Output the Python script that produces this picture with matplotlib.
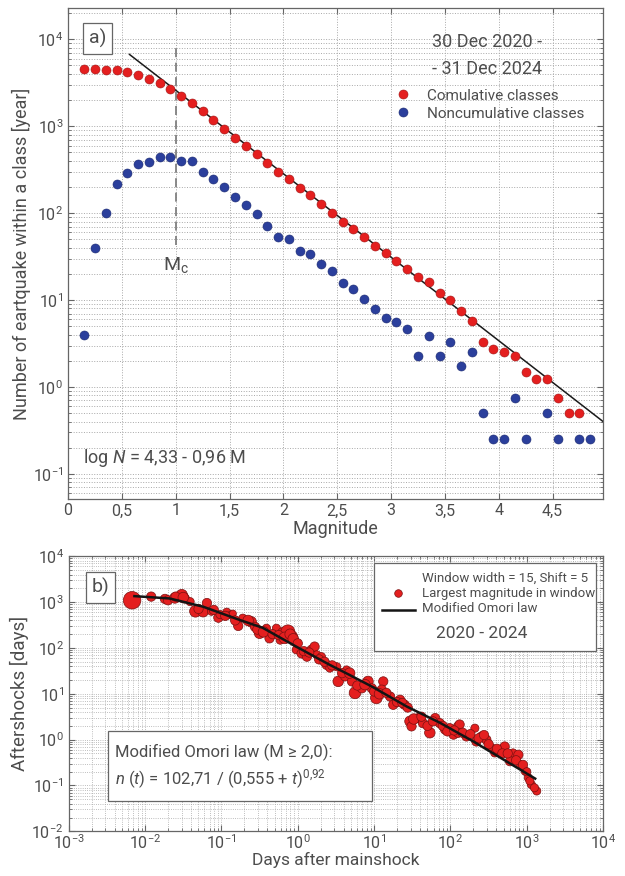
import numpy as np
import matplotlib
matplotlib.use('Agg')
import matplotlib.pyplot as plt
from matplotlib.ticker import FixedLocator, FuncFormatter, LogLocator, NullFormatter
from matplotlib.patches import Rectangle

# Panel a: Gutenberg-Richter, magnitude classes
cum_mag = [0.15, 0.25, 0.35, 0.45, 0.55, 0.65, 0.75, 0.85, 0.95, 1.05,
           1.15, 1.25, 1.35, 1.45, 1.55, 1.65, 1.75, 1.85, 1.95, 2.05,
           2.15, 2.25, 2.35, 2.45, 2.55, 2.65, 2.75, 2.85, 2.95, 3.05,
           3.15, 3.25, 3.35, 3.45, 3.55, 3.65, 3.75, 3.85, 3.95, 4.05,
           4.15, 4.25, 4.35, 4.45, 4.55, 4.65, 4.75]
cum_rate = [4500, 4500, 4480, 4400, 4200, 3930, 3530, 3150, 2690, 2230,
            1870, 1490, 1190, 940, 735, 594, 473, 373, 298, 246,
            197, 160, 127, 101, 79.5, 65.5, 52.6, 42, 34.4, 28,
            22.7, 18.2, 16, 12.1, 10, 7.5, 5.75, 3.25, 2.75, 2.5,
            2.25, 1.5, 1.25, 1.25, 0.75, 0.5, 0.5]
non_mag = [0.15, 0.25, 0.35, 0.45, 0.55, 0.65, 0.75, 0.85, 0.95, 1.05,
           1.15, 1.25, 1.35, 1.45, 1.55, 1.65, 1.75, 1.85, 1.95, 2.05,
           2.15, 2.25, 2.35, 2.45, 2.55, 2.65, 2.75, 2.85, 2.95, 3.05,
           3.15, 3.25, 3.35, 3.45, 3.55, 3.65, 3.75, 3.85, 3.95, 4.05,
           4.15, 4.25, 4.45, 4.55, 4.75, 4.85]
non_rate = [4, 39.5, 100, 214, 286, 363, 390, 443, 443, 398,
            398, 299, 245, 200, 154, 124, 97.5, 72, 53, 50.7,
            37, 34, 26, 21.7, 15.6, 13.5, 10.2, 7.8, 6.3, 5.6,
            4.6, 2.25, 3.9, 2.25, 3.25, 1.75, 2.5, 0.5, 0.25, 0.25,
            0.75, 0.25, 0.5, 0.25, 0.25, 0.25]
gr_mag = [0.57, 4.97]
gr_rate = [6700, 0.40]
mc = 1.0
mc_span = [43, 8000]

# Panel b: aftershock rates (log10 of days after mainshock, log10 of rate)
after_logt = [-2.17, -1.92, -1.74, -1.70, -1.61, -1.52, -1.48, -1.41, -1.34, -1.24,
              -1.19, -1.13, -1.04, -1.02, -0.93, -0.87, -0.78, -0.85, -0.72, -0.61,
              -0.56, -0.50, -0.41, -0.37, -0.28, -0.23, -0.19, -0.13, -0.08, -0.04,
              -0.02, 0.05, 0.12, 0.18, 0.22, 0.25, 0.31, 0.38, 0.42, 0.51,
              0.53, 0.62, 0.64, 0.71, 0.75, 0.84, 0.92, 0.97, 1.03, 1.12,
              1.10, 1.21, 1.25, 1.34, 1.40, 1.47, 1.49, 1.58, 1.64, 1.73,
              1.80, 1.86, 1.93, 2.04, 2.10, 1.99, 2.12, 2.10, 2.21, 2.32,
              2.34, 2.41, 2.47, 2.54, 2.58, 2.65, 2.71, 2.78, 2.82, 2.89,
              2.91, 2.98, 3.02, 3.06, 3.13,
              -1.60, -1.50, -1.30, -1.10, -0.95, -0.82,
              -0.65, -0.53, -0.45, -0.33, -0.25, -0.17, -0.10, -0.06, 0.00, 0.08,
              0.15, 0.28, 0.35, 0.45, 0.58,
              0.68, 0.78, 0.88, 1.00, 1.07, 1.16, 1.30, 1.37, 1.44, 1.52,
              1.62, 1.70, 1.77, 1.90, 1.96,
              2.05, 2.16, 2.26, 2.37, 2.44, 2.50, 2.61, 2.68, 2.75, 2.86,
              2.95, 3.00, 3.04, 3.10]
after_logn = [3.04, 3.12, 3.07, 3.04, 3.09, 3.15, 3.08, 3.01, 2.80, 2.79,
              2.98, 2.80, 2.66, 2.73, 2.78, 2.72, 2.48, 2.75, 2.65, 2.57,
              2.46, 2.32, 2.43, 2.21, 2.43, 2.17, 2.32, 2.35, 2.25, 2.14,
              1.96, 1.88, 1.81, 1.96, 2.03, 1.85, 1.81, 1.63, 1.56, 1.59,
              1.27, 1.38, 1.52, 1.27, 1.02, 1.12, 1.27, 1.12, 0.91, 1.27,
              1.09, 0.94, 0.76, 0.87, 0.76, 0.40, 0.29, 0.47, 0.36, 0.15,
              0.47, 0.36, 0.22, 0.11, 0.29, 0.25, 0.33, 0.15, 0.07, 0.25,
              -0.04, 0.07, 0.00, -0.18, -0.29, -0.22, -0.15, -0.47, -0.29, -0.33,
              -0.54, -0.69, -0.83, -0.98, -1.12,
              3.12, 3.10, 2.85, 2.83, 2.70, 2.60,
              2.60, 2.40, 2.35, 2.30, 2.28, 2.22, 2.30, 2.20, 2.10, 1.93,
              1.90, 1.75, 1.70, 1.62, 1.45,
              1.45, 1.18, 1.20, 1.05, 1.00, 1.02, 0.82, 0.80, 0.70, 0.45,
              0.50, 0.30, 0.40, 0.30, 0.18,
              0.20, 0.15, 0.12, 0.03, 0.10, -0.10, -0.20, -0.30, -0.30, -0.45,
              -0.55, -0.70, -0.90, -1.05]
after_mag = [4.5, 2.4, 2.4, 2.4, 2.7, 3.0, 2.4, 2.1, 3.0, 2.7,
             2.4, 2.1, 2.4, 2.1, 2.1, 2.1, 2.4, 1.8, 2.1, 2.7,
             2.4, 2.7, 2.1, 2.4, 2.1, 2.1, 3.0, 3.6, 3.0, 2.4,
             2.1, 2.4, 2.4, 2.4, 2.4, 2.1, 2.1, 2.4, 2.1, 2.1,
             2.7, 2.4, 2.1, 2.4, 3.0, 2.4, 2.7, 2.4, 3.0, 2.4,
             2.4, 2.4, 2.4, 2.4, 2.4, 2.7, 2.4, 2.4, 2.4, 2.7,
             2.4, 2.4, 2.4, 2.4, 2.4, 2.4, 2.4, 2.4, 2.4, 2.1,
             2.4, 2.4, 2.4, 2.1, 2.1, 2.1, 2.4, 2.4, 2.1, 2.4,
             2.1, 2.1, 2.1, 2.1, 2.1,
             2.4, 2.7, 2.4, 2.4, 2.4, 2.4,
             2.7, 2.4, 2.7, 2.4, 2.4, 3.0, 2.7, 2.7, 2.4, 2.4,
             2.4, 2.4, 2.4, 2.4, 2.4,
             2.7, 2.4, 2.7, 2.4, 2.7, 2.4, 2.4, 2.4, 2.4, 2.7,
             2.4, 2.4, 2.4, 2.4, 2.4,
             2.4, 2.4, 2.4, 2.4, 2.4, 2.4, 2.4, 2.4, 2.4, 2.4,
             2.4, 2.1, 2.1, 2.1]
omori_logt = [-2.14, -1.68, -1.24, -0.76, -0.46, -0.01, 0.42, 0.68,
              0.98, 1.43, 1.86, 2.30, 2.74, 3.11]
omori_logn = [3.13, 3.08, 2.90, 2.61, 2.44, 2.02, 1.63, 1.41,
              1.15, 0.72, 0.37, -0.04, -0.48, -0.85]

TXT = '#4d4d4d'
RED = '#e41f1f'
BLUE = '#2b3f9c'

plt.rcParams['font.family'] = ['Roboto', 'DejaVu Sans']
plt.rcParams['mathtext.fontset'] = 'custom'
plt.rcParams['mathtext.rm'] = 'Roboto'
plt.rcParams['mathtext.it'] = 'Roboto:italic'
plt.rcParams['text.color'] = TXT
plt.rcParams['axes.labelcolor'] = TXT
plt.rcParams['xtick.color'] = '#666666'
plt.rcParams['ytick.color'] = '#666666'
plt.rcParams['xtick.labelcolor'] = TXT
plt.rcParams['ytick.labelcolor'] = TXT


def style_axes(ax):
    for s in ax.spines.values():
        s.set_color('#666666')
        s.set_linewidth(0.9)
    ax.tick_params(which='both', direction='in', top=True, right=True, labelsize=11.5)
    ax.tick_params(which='major', length=4)
    ax.tick_params(which='minor', length=2)


fig = plt.figure(figsize=(6.25, 8.76), dpi=100)

# ---------- panel a ----------
ax1 = fig.add_axes([0.109, 0.430, 0.856, 0.561])
ax1.set_yscale('log')
ax1.set_xlim(0, 4.97)
ax1.set_ylim(0.051, 2.3e4)
ax1.xaxis.set_major_locator(FixedLocator(np.arange(0, 4.6, 0.5)))
ax1.xaxis.set_major_formatter(FuncFormatter(lambda v, p: ('%g' % v).replace('.', ',')))
ax1.yaxis.set_major_locator(LogLocator(base=10, numticks=10))
ax1.yaxis.set_minor_locator(LogLocator(base=10, subs=np.arange(2, 10), numticks=20))
ax1.yaxis.set_minor_formatter(NullFormatter())
ax1.grid(True, which='major', axis='x', linestyle=':', color='#a8a8a8', linewidth=0.7)
ax1.grid(True, which='both', axis='y', linestyle=':', color='#a8a8a8', linewidth=0.7)
ax1.set_axisbelow(True)
style_axes(ax1)
ax1.tick_params(axis='x', pad=3)

ax1.plot(gr_mag, gr_rate, color='#1a1a1a', linewidth=1.1, zorder=2)
ax1.plot([mc, mc], mc_span, color='#808080', linestyle=(0, (5, 3)), linewidth=1.3, zorder=2)
ax1.plot(cum_mag, cum_rate, 'o', color=RED, markersize=6.5, markeredgecolor='#a01515',
         markeredgewidth=0.4, label='Comulative classes', zorder=3)
ax1.plot(non_mag, non_rate, 'o', color=BLUE, markersize=6.5, markeredgecolor='#1c2a70',
         markeredgewidth=0.4, label='Noncumulative classes', zorder=3)

ax1.text(mc, 25, r'$\mathregular{M_c}$', fontsize=14, ha='center', va='center', color=TXT)
ax1.text(0.14, 0.153, r'log $\mathit{N}$ = 4,33 - 0,96 M', fontsize=13, ha='left', va='center')
ax1.text(0.783, 0.930, '30 Dec 2020 -', transform=ax1.transAxes, fontsize=13, ha='center', va='center')
ax1.text(0.783, 0.875, '- 31 Dec 2024', transform=ax1.transAxes, fontsize=13, ha='center', va='center')
ax1.text(0.055, 0.937, 'a)', transform=ax1.transAxes, fontsize=14, ha='center', va='center',
         bbox=dict(boxstyle='square,pad=0.3', facecolor='white', edgecolor='#666666', linewidth=0.9))
ax1.legend(loc='center left', bbox_to_anchor=(0.600, 0.803), frameon=False, fontsize=11,
           handlelength=1.0, handletextpad=1.1, labelspacing=0.25, borderaxespad=0)
ax1.set_xlabel('Magnitude', fontsize=13, labelpad=1)
ax1.set_ylabel('Number of eartquake within a class [year]', fontsize=13, labelpad=1)

# ---------- panel b ----------
ax2 = fig.add_axes([0.110, 0.051, 0.855, 0.314])
ax2.set_xscale('log')
ax2.set_yscale('log')
ax2.set_xlim(1e-3, 1e4)
ax2.set_ylim(1e-2, 1e4)
for axis in (ax2.xaxis, ax2.yaxis):
    axis.set_major_locator(LogLocator(base=10, numticks=12))
    axis.set_minor_locator(LogLocator(base=10, subs=np.arange(2, 10), numticks=30))
    axis.set_minor_formatter(NullFormatter())
ax2.grid(True, which='both', linestyle=':', color='#a8a8a8', linewidth=0.6)
ax2.set_axisbelow(True)
style_axes(ax2)
ax2.tick_params(axis='x', pad=1.5)

t = 10 ** np.array(after_logt)
n = 10 ** np.array(after_logn)
sizes = (np.array(after_mag) * 2.8) ** 2
ax2.scatter(t, n, s=sizes, c=RED, edgecolors='#7a1010', linewidths=0.5, zorder=3)
ax2.plot(10 ** np.array(omori_logt), 10 ** np.array(omori_logn), color='#141414', linewidth=1.8, zorder=4)

ax2.text(0.043, 0.886, 'b)', transform=ax2.transAxes, fontsize=14, ha='left', va='center',
         bbox=dict(boxstyle='square,pad=0.3', facecolor='white', edgecolor='#666666', linewidth=0.9))

# legend box
ax2.add_patch(Rectangle((0.571, 0.656), 0.416, 0.319, transform=ax2.transAxes,
                        facecolor='white', edgecolor='#666666', linewidth=0.9, zorder=5))
ax2.text(0.661, 0.920, 'Window width = 15, Shift = 5', transform=ax2.transAxes,
         fontsize=9.5, va='center', zorder=6)
ax2.scatter([0.616], [0.866], s=30, c=RED, edgecolors='#7a1010', linewidths=0.5,
            transform=ax2.transAxes, zorder=6)
ax2.text(0.661, 0.866, 'Largest magnitude in window', transform=ax2.transAxes,
         fontsize=9.5, va='center', zorder=6)
ax2.plot([0.586, 0.648], [0.806, 0.806], color='#141414', linewidth=1.8,
         transform=ax2.transAxes, zorder=6)
ax2.text(0.661, 0.810, 'Modified Omori law', transform=ax2.transAxes,
         fontsize=9.5, va='center', zorder=6)
ax2.text(0.773, 0.718, '2020 - 2024', transform=ax2.transAxes,
         fontsize=12.5, ha='center', va='center', zorder=6)

# Omori formula box
ax2.add_patch(Rectangle((0.073, 0.109), 0.494, 0.254, transform=ax2.transAxes,
                        facecolor='white', edgecolor='#666666', linewidth=0.9, zorder=5))
ax2.text(0.087, 0.286, 'Modified Omori law (M ≥ 2,0):', transform=ax2.transAxes,
         fontsize=12, va='center', zorder=6)
ax2.text(0.087, 0.190, r'$n$ ($t$) = 102,71 / (0,555 + $t$)$^{\mathregular{0{,}92}}$',
         transform=ax2.transAxes, fontsize=12, va='center', zorder=6)

ax2.set_xlabel('Days after mainshock', fontsize=12.5, labelpad=0)
ax2.set_ylabel('Aftershocks [days]', fontsize=13.5, labelpad=2)

fig.savefig('out.png', dpi=100)
